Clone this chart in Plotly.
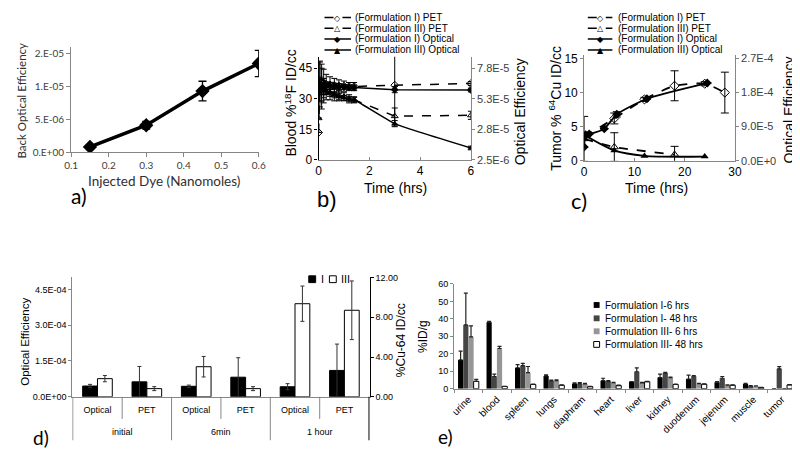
import plotly.graph_objects as go

W, H = 800, 450
def px(x): return x / W
def py(y): return 1 - y / H

ARIAL = "Liberation Sans, Arial, sans-serif"
CAL = "Lato, Open Sans, sans-serif"

# ---------------- data: panel a ----------------
a_dye = [0.15, 0.30, 0.45, 0.60]
a_eff = [0.8e-6, 4.1e-6, 9.3e-6, 13.5e-6]
a_err = [0.3e-6, 0.6e-6, 1.5e-6, 2.0e-6]
a_xtick_vals = [0.1, 0.2, 0.3, 0.4, 0.5, 0.6]
a_ytick_vals = [0, 5e-6, 1e-5, 1.5e-5]
a_ytick_text = ["0.E+00", "5.E-06", "1.E-05", "2.E-05"]

# ---------------- data: panel b ----------------
b_t_pet = [0, 0.05, 0.12, 0.2, 0.3, 0.45, 0.62, 0.8, 1.0, 1.2, 1.4, 3, 6]
b_pet_I = [13.5, 38.5, 38, 37.5, 37, 36.8, 36.5, 36.3, 36.2, 36.0, 36.0, 36.7, 37.5]
b_pet_I_err = [0, 10, 9, 7, 5, 4, 3.5, 3, 2.5, 2, 2, 20, 1]
b_pet_III = [20.5, 37, 35, 34, 33.5, 33, 32, 31.5, 31, 30, 29.5, 21.5, 21.9]
b_pet_III_err = [0, 11, 10, 6, 4, 3.5, 3, 2.5, 2, 2, 1.5, 4, 2]
b_t_opt = [0.05, 0.12, 0.2, 0.3, 0.45, 0.62, 0.8, 1.0, 1.2, 1.4, 3, 6]
b_opt_I = [6.42e-5, 6.33e-5, 6.33e-5, 6.33e-5, 6.30e-5, 6.28e-5, 6.25e-5, 6.22e-5, 6.18e-5, 6.17e-5, 6.00e-5, 5.97e-5]
b_opt_I_err = [6e-6, 5e-6, 4e-6, 3e-6, 3e-6, 2.5e-6, 2.5e-6, 2e-6, 2e-6, 2e-6, 2.5e-6, 1.5e-6]
b_opt_III = [6.25e-5, 6.08e-5, 6.0e-5, 5.92e-5, 5.75e-5, 5.58e-5, 5.42e-5, 5.33e-5, 5.25e-5, 5.17e-5, 3.22e-5, 1.23e-5]
b_opt_III_err = [6e-6, 5e-6, 4e-6, 3e-6, 3e-6, 2.5e-6, 2.5e-6, 2e-6, 2e-6, 2e-6, 2.5e-6, 1.5e-6]
b_yl_vals = [0, 15, 30, 45]
b_yr_vals = [2.5e-6, 2.75e-5, 5.25e-5, 7.75e-5]
b_yr_text = ["2.5E-6", "2.8E-5", "5.3E-5", "7.8E-5"]

# ---------------- data: panel c ----------------
c_t_pet_I = [0, 6, 12, 18, 24, 28]
c_pet_I = [3.5, 6.2, 9.0, 11.0, 11.3, 10.0]
c_pet_I_err = [0, 0.8, 0.3, 2.2, 0.3, 3.0]
c_t_pet_III = [0, 6, 18]
c_pet_III = [3.2, 2.0, 0.9]
c_pet_III_err = [3.3, 2.1, 1.2]
c_t_opt_I = [0, 0.3, 1, 4, 6.5, 12.5, 24.5]
c_opt_I = [3.6e-5, 6.84e-5, 7.02e-5, 8.46e-5, 1.224e-4, 1.638e-4, 2.052e-4]
c_opt_I_err = [0, 0, 0, 0, 7e-6, 0, 0]
c_t_opt_III = [0, 6, 12, 24]
c_opt_III = [6.84e-5, 2.7e-5, 1.26e-5, 1.08e-5]
c_yr_vals = [0, 9e-5, 1.8e-4, 2.7e-4]
c_yr_text = ["0.0E+0", "9.0E-5", "1.8E-4", "2.7E-4"]

legend_labels = ["(Formulation I) PET", "(Formulation III) PET",
                 "(Formulation I) Optical", "(Formulation III) Optical"]

# ---------------- data: panel d ----------------
d_groups = ["initial", "6min", "1 hour"]
d_kinds = ["Optical", "PET"]
d_opt_I = [4.5e-5, 4.4e-5, 4.2e-5]
d_opt_I_err = [0.7e-5, 0.5e-5, 1.3e-5]
d_opt_III = [7.6e-5, 1.26e-4, 3.9e-4]
d_opt_III_err = [1.3e-5, 4.3e-5, 7.4e-5]
d_pet_I = [1.5, 1.97, 2.65]
d_pet_I_err = [1.55, 1.96, 2.65]
d_pet_III = [0.82, 0.82, 8.7]
d_pet_III_err = [0.2, 0.2, 2.95]
d_yl_vals = [0, 1.5e-4, 3e-4, 4.5e-4]
d_yl_text = ["0.0E+00", "1.5E-04", "3.0E-04", "4.5E-04"]
d_yr_vals = [0, 4, 8, 12]
d_yr_text = ["0.00", "4.00", "8.00", "12.00"]

# ---------------- data: panel e ----------------
e_organs = ["urine", "blood", "spleen", "lungs", "diaphram", "heart", "liver",
            "kidney", "duodenum", "jejenum", "muscle", "tumor"]
e_names = ["Formulation I-6 hrs", "Formulation I- 48 hrs",
           "Formulation III- 6 hrs", "Formulation III- 48 hrs"]
e_I6 = [16.5, 38, 12, 7.3, 2.9, 4.6, 4.0, 6.4, 5.5, 3.7, 2.7, 0]
e_I48 = [36.5, 7, 13.2, 4.6, 2.9, 4.2, 9.7, 9, 7.2, 6, 1.6, 11.4]
e_III6 = [29.7, 23, 9.2, 4.6, 2.7, 3.4, 3.3, 6.4, 2.9, 2, 1.6, 0]
e_III48 = [4.2, 1.3, 2.4, 2.0, 1.2, 1.8, 4.0, 2.4, 2.6, 2, 0.7, 2.2]
e_I6_err = [5, 0.5, 1.8, 0.6, 0.4, 1.4, 0, 2, 2.3, 0.3, 0.3, 0]
e_I48_err = [18.2, 1.3, 1.3, 0.3, 0.6, 0.4, 2.2, 0.3, 0.3, 1, 0.2, 1.2]
e_III6_err = [6.3, 1.2, 3.5, 0.5, 0.3, 0.3, 0.3, 0.3, 0.2, 0.2, 0.1, 0]
e_III48_err = [1.1, 0.1, 0.3, 0.2, 0.2, 0.2, 0.2, 0.2, 0.2, 0.2, 0.1, 0.2]

fig = go.Figure()

# ---- panel a ----
fig.add_trace(go.Scatter(x=a_dye, y=a_eff, xaxis="x", yaxis="y", mode="lines+markers",
                         line=dict(color="black", width=3.5),
                         marker=dict(symbol="diamond", size=11, color="black"),
                         error_y=dict(type="data", array=a_err, color="black", thickness=1.3, width=4)))

# ---- panel b ----
def err(arr, w=3):
    return dict(type="data", array=arr, color="black", thickness=1, width=w)

fig.add_trace(go.Scatter(x=b_t_pet, y=b_pet_I, xaxis="x2", yaxis="y2", mode="lines+markers",
                         line=dict(color="black", width=1.5, dash="dash"),
                         marker=dict(symbol="diamond-open", size=6, color="black"),
                         error_y=err(b_pet_I_err)))
fig.add_trace(go.Scatter(x=b_t_pet, y=b_pet_III, xaxis="x2", yaxis="y2", mode="lines+markers",
                         line=dict(color="black", width=1.5, dash="dash"),
                         marker=dict(symbol="triangle-up-open", size=6, color="black"),
                         error_y=err(b_pet_III_err)))
fig.add_trace(go.Scatter(x=b_t_opt, y=b_opt_I, xaxis="x2", yaxis="y3", mode="lines+markers",
                         line=dict(color="black", width=1.5),
                         marker=dict(symbol="diamond", size=6, color="black"),
                         error_y=err(b_opt_I_err)))
fig.add_trace(go.Scatter(x=b_t_opt, y=b_opt_III, xaxis="x2", yaxis="y3", mode="lines+markers",
                         line=dict(color="black", width=1.5, shape="spline", smoothing=0.4),
                         marker=dict(symbol="triangle-up", size=6, color="black"),
                         error_y=err(b_opt_III_err)))

# ---- panel c ----
fig.add_trace(go.Scatter(x=c_t_pet_I, y=c_pet_I, xaxis="x3", yaxis="y4", mode="lines+markers",
                         line=dict(color="black", width=1.8, dash="dash", shape="spline", smoothing=0.6),
                         marker=dict(symbol="diamond-open", size=7, color="black"),
                         error_y=err(c_pet_I_err, 4)))
fig.add_trace(go.Scatter(x=c_t_pet_III, y=c_pet_III, xaxis="x3", yaxis="y4", mode="lines+markers",
                         line=dict(color="black", width=1.8, dash="dash", shape="spline", smoothing=0.6),
                         marker=dict(symbol="triangle-up-open", size=7, color="black"),
                         error_y=err(c_pet_III_err, 4)))
fig.add_trace(go.Scatter(x=c_t_opt_I, y=c_opt_I, xaxis="x3", yaxis="y5", mode="lines+markers",
                         line=dict(color="black", width=1.8, shape="spline", smoothing=0.6),
                         marker=dict(symbol="diamond", size=7, color="black"),
                         error_y=err(c_opt_I_err, 4)))
fig.add_trace(go.Scatter(x=c_t_opt_III, y=c_opt_III, xaxis="x3", yaxis="y5", mode="lines+markers",
                         line=dict(color="black", width=1.8, shape="spline", smoothing=0.8),
                         marker=dict(symbol="triangle-up", size=7, color="black")))

# ---- panel d ----
d_cats = [g + " " + k for g in d_groups for k in d_kinds]
d_inner = [k for _ in d_groups for k in d_kinds]
def interleave(vals, kind):
    out = []
    for v in vals:
        out += [v, None] if kind == "Optical" else [None, v]
    return out

for vals, errs, yax, kind, fill, off in [
        (d_opt_I, d_opt_I_err, "y6", "Optical", "black", -0.3),
        (d_opt_III, d_opt_III_err, "y6", "Optical", "white", 0.0),
        (d_pet_I, d_pet_I_err, "y7", "PET", "black", -0.3),
        (d_pet_III, d_pet_III_err, "y7", "PET", "white", 0.0)]:
    fig.add_trace(go.Bar(x=d_cats, y=interleave(vals, kind),
                         xaxis="x4", yaxis=yax, width=0.3, offset=off,
                         marker=dict(color=fill, line=dict(color="black", width=1)),
                         error_y=dict(type="data", array=interleave(errs, kind),
                                      color="#333333", thickness=1, width=2)))

# ---- panel e ----
e_colors = ["black", "#454545", "#969696", "white"]
for vals, errs, col in [(e_I6, e_I6_err, e_colors[0]), (e_I48, e_I48_err, e_colors[1]),
                        (e_III6, e_III6_err, e_colors[2]), (e_III48, e_III48_err, e_colors[3])]:
    fig.add_trace(go.Bar(x=e_organs, y=vals, xaxis="x5", yaxis="y8",
                         marker=dict(color=col, line=dict(color="black", width=1 if col == "white" else 0)),
                         error_y=dict(type="data", array=errs, arrayminus=[0] * len(errs), symmetric=False,
                                      color="#222222", thickness=1.2, width=2)))

fig.update_traces(showlegend=False)

tf_a = dict(family=CAL, size=10, color="#404040")
tf = dict(family=ARIAL, size=12, color="black")
tf_r = dict(family=ARIAL, size=11, color="#404040")
tf_s = dict(family=ARIAL, size=9, color="black")
gray = "#868686"

common = dict(showgrid=False, zeroline=False, showline=True)

fig.update_layout(
    width=W, height=H, margin=dict(l=0, r=0, t=0, b=0),
    paper_bgcolor="white", plot_bgcolor="white",
    barmode="group", bargap=0.27, bargroupgap=0,
    showlegend=False,
    # a
    xaxis=dict(domain=[px(57), px(248.3)], range=[0.0995, 0.6005], anchor="y",
               tickvals=a_xtick_vals, ticks="outside", ticklen=4, tickcolor=gray, linecolor=gray, linewidth=1,
               tickfont=tf_a, **common),
    yaxis=dict(domain=[py(143), py(35)], range=[0, 1.6e-5], anchor="x",
               tickvals=a_ytick_vals, ticktext=a_ytick_text,
               ticks="outside", ticklen=4, tickcolor=gray, linecolor=gray, linewidth=1,
               tickfont=tf_a, **common),
    # b
    xaxis2=dict(domain=[px(309), px(464)], range=[0, 6], anchor="y2", dtick=2,
                ticks="inside", ticklen=3, tickcolor=gray, linecolor=gray, tickfont=tf, **common),
    yaxis2=dict(domain=[py(151), py(45)], range=[0, 50.6], anchor="x2", tickvals=b_yl_vals,
                ticks="outside", ticklen=3, tickcolor="black", linecolor="black", linewidth=1.2,
                tickfont=tf, **common),
    yaxis3=dict(overlaying="y2", side="right", anchor="x2", range=[2.5e-6, 2.5e-6 + 50.6 * 2.5e-5 / 15],
                tickvals=b_yr_vals, ticktext=b_yr_text, ticks="outside", ticklen=3,
                tickcolor=gray, linecolor=gray, tickfont=tf_r, **common),
    # c
    xaxis3=dict(domain=[px(579.3), px(732.7)], range=[0, 30], anchor="y4", dtick=10,
                ticks="inside", ticklen=3, tickcolor=gray, linecolor=gray, tickfont=tf, **common),
    yaxis4=dict(domain=[py(151.7), py(43.3)], range=[0, 15.5], anchor="x3", tickvals=[0, 5, 10, 15],
                ticks="outside", ticklen=3, tickcolor=gray, linecolor=gray, tickfont=tf, **common),
    yaxis5=dict(overlaying="y4", side="right", anchor="x3", range=[0, 15.5 * 1.8e-5],
                tickvals=c_yr_vals, ticktext=c_yr_text, ticks="outside", ticklen=3,
                tickcolor=gray, linecolor=gray, tickfont=tf_r, **common),
    # d
    xaxis4=dict(domain=[px(58.3), px(361)], anchor="y6", type="category",
                categoryorder="array", categoryarray=d_cats,
                tickvals=d_cats, ticktext=d_inner, ticklabelstandoff=4,
                tickfont=tf_s, linecolor=gray, ticks="", **common),
    yaxis6=dict(domain=[py(394.3), py(271.7)], range=[0, 5e-4], anchor="x4",
                tickvals=d_yl_vals, ticktext=d_yl_text, ticks="outside", ticklen=3,
                tickcolor=gray, linecolor=gray, tickfont=tf_s, **common),
    yaxis7=dict(overlaying="y6", side="right", anchor="x4", range=[0, 12],
                tickvals=d_yr_vals, ticktext=d_yr_text, ticks="outside", ticklen=3,
                tickcolor="black", linecolor="black", linewidth=1.2, tickfont=tf_s, **common),
    # e
    xaxis5=dict(domain=[px(447), px(795)], anchor="y8", tickangle=-45,
                tickfont=dict(family=ARIAL, size=10, color="black"),
                ticks="outside", ticklen=3, tickcolor=gray, linecolor=gray, tickson="boundaries", **common),
    yaxis8=dict(domain=[py(386), py(278.3)], range=[0, 60], anchor="x5", dtick=10,
                ticks="outside", ticklen=3, tickcolor=gray, linecolor=gray, tickfont=tf_s, **common),
)

ann = []
shapes = []
def text(x, y, t, size, family=ARIAL, angle=0, xanchor="center", color="black"):
    ann.append(dict(x=px(x), y=py(y), xref="paper", yref="paper", text=t, showarrow=False,
                    font=dict(family=family, size=size, color=color), textangle=angle,
                    xanchor=xanchor, yanchor="middle"))

# axis titles and panel labels
text(7, 90, "Back Optical Efficiency", 11.5, CAL, -90, color="#303030")
text(152, 173, "Injected Dye (Nanomoles)", 13.5, CAL, color="#303030")
text(65, 188, "a)", 21, CAL)

text(280, 93, "Blood %<sup>18</sup>F ID/cc", 14, ARIAL, -90)
text(514, 102, "Optical Efficiency", 14, ARIAL, -90)
text(387, 180, "Time (hrs)", 14)
text(318, 192, "b)", 22)

text(550, 98, "Tumor % <sup>64</sup>Cu ID/cc", 14, ARIAL, -90)
text(788, 100, "Optical Efficiency", 14, ARIAL, -90)
text(653, 180, "Time (hrs)", 14)
text(574, 193, "c)", 22, CAL)

text(10, 338, "Optical Efficiency", 11.5, ARIAL, -90)
text(393, 336, "%Cu-64 ID/cc", 12, ARIAL, -90)
text(26, 436, "d)", 19, CAL)

text(415, 332, "%ID/g", 12, ARIAL, -90)
text(438, 435, "e)", 19, CAL)

# panel d group labels and dividers (positioned on the category axis)
for i, g in enumerate(d_groups):
    ann.append(dict(x=2 * i + 0.5, y=py(430), xref="x4", yref="paper", text=g, showarrow=False,
                    font=tf_s, xanchor="center", yanchor="middle"))
    shapes.append(dict(type="line", xref="x4", yref="paper", x0=2 * i + 0.5, x1=2 * i + 0.5,
                       y0=py(394.3), y1=py(417), line=dict(color=gray, width=1)))
for b in [-0.5, 1.5, 3.5]:
    shapes.append(dict(type="line", xref="x4", yref="paper", x0=b, x1=b,
                       y0=py(394.3), y1=py(439), line=dict(color=gray, width=1)))
shapes.append(dict(type="line", xref="x4", yref="paper", x0=5.5, x1=5.5,
                   y0=py(394.3), y1=py(439), line=dict(color="black", width=1.2)))

# legends for b and c (line keys)
leg_y = [4.7, 15.7, 26.7, 38]
leg_sym = ["◇", "△", "◆", "▲"]
leg_dash = ["dash", "dash", "solid", "solid"]
for (x0, x1, tx) in [(315, 342, 344), (583, 608, 612)]:
    for i, lab in enumerate(legend_labels):
        shapes.append(dict(type="line", xref="paper", yref="paper", x0=px(x0), x1=px(x1),
                           y0=py(leg_y[i]), y1=py(leg_y[i]),
                           line=dict(color="black", width=1.5, dash=leg_dash[i])))
        text((x0 + x1) / 2, leg_y[i] + 0.5, leg_sym[i], 8, "DejaVu Sans")
        text(tx, leg_y[i], lab, 10, ARIAL, xanchor="left")

# legend for d
d_leg = [("I", "black", 299), ("III", "white", 320)]
for lab, col, x0 in d_leg:
    shapes.append(dict(type="rect", xref="paper", yref="paper", x0=px(x0), x1=px(x0 + 7),
                       y0=py(277), y1=py(270), fillcolor=col, line=dict(color="black", width=1)))
    text(x0 + 10, 273.5, lab, 11, ARIAL, xanchor="left")

# legend for e
e_leg_y = [300, 313.7, 327, 340.5]
for i, lab in enumerate(e_names):
    shapes.append(dict(type="rect", xref="paper", yref="paper", x0=px(589), x1=px(595),
                       y0=py(e_leg_y[i] + 3), y1=py(e_leg_y[i] - 3), fillcolor=e_colors[i],
                       line=dict(color="black", width=1 if e_colors[i] == "white" else 0)))
    text(598, e_leg_y[i], lab, 10, ARIAL, xanchor="left")

fig.update_layout(annotations=ann, shapes=shapes)
fig.write_html("out.html")
